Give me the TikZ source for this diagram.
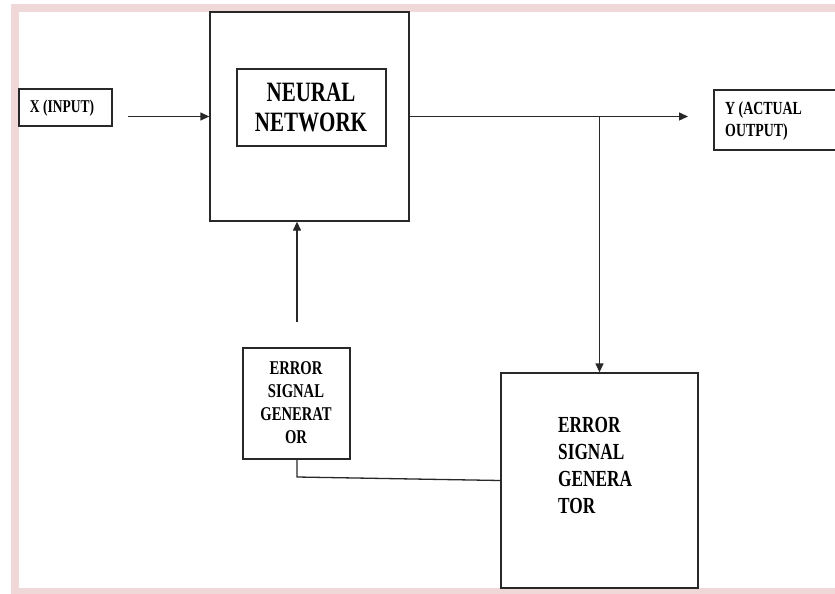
\documentclass[tikz,border=0pt]{standalone}
\usepackage{fontspec}
\setmainfont{Liberation Serif}
\newfontfamily\bt[FakeStretch=0.75]{Liberation Serif}
\usetikzlibrary{arrows.meta}
\definecolor{pinkframe}{RGB}{240,216,216}
\definecolor{linec}{RGB}{40,40,40}
\begin{document}
\begin{tikzpicture}[x=1pt,y=-1pt,
  box/.style={draw=linec,line width=1.3pt,fill=white,inner sep=0pt},
  lbl/.style={inner sep=0pt,font=\bt\bfseries},
  conn/.style={draw=linec,line width=1.3pt},
  tip/.style={-{Triangle[length=9pt,width=8pt]}}]
\useasboundingbox (0,0) rectangle (835,594);
\fill[pinkframe] (11,4) rectangle (900,594);
\fill[white] (19,12) rectangle (880,588);
% boxes
\node[box,minimum width=199pt,minimum height=209pt] (nn) at (309.5,116.5) {};
\node[box,minimum width=149pt,minimum height=77pt] (nnin) at (311.5,107.5) {};
\node[lbl,align=center,font=\bt\bfseries\fontsize{28}{30}\selectfont] (nntxt) at (311,107) {NEURAL\\NETWORK};
\node[box,minimum width=93pt,minimum height=37pt] (xbox) at (65.5,107.5) {};
\node[lbl,font=\bt\bfseries\fontsize{18}{22}\selectfont] (xtxt) at (62,108) {X (INPUT)};
\node[box,minimum width=146pt,minimum height=60pt] (ybox) at (787,120) {};
\node[lbl,anchor=west,align=left,font=\bt\bfseries\fontsize{18.5}{22}\selectfont] (ytxt) at (725,121) {Y (ACTUAL\\OUTPUT)};
\node[box,minimum width=107pt,minimum height=111pt] (esg1) at (296.5,403.5) {};
\node[lbl,align=center,font=\bt\bfseries\fontsize{19.5}{23}\selectfont] (esg1txt) at (296,403) {ERROR\\SIGNAL\\GENERAT\\OR};
\node[box,minimum width=197pt,minimum height=215pt] (esg2) at (599.5,480.5) {};
\node[lbl,anchor=west,align=left,font=\bt\bfseries\fontsize{23}{27}\selectfont] (esg2txt) at (558,465) {ERROR\\SIGNAL\\GENERA\\TOR};
% connectors
\coordinate (xs) at (128,116.5);
\draw[conn,tip] (xs) -- (xs -| nn.west);
\coordinate (ye) at (688,116.5);
\draw[conn,tip] (nn.east) -- (ye);
\coordinate (br) at (599.5,116.5);
\draw[conn,tip] (br) -- (esg2.north);
\coordinate (us) at (297,322);
\draw[conn,tip] (us) -- (us |- nn.south);
\coordinate (bc) at (297,477);
\draw[conn] (esg1.south -| bc) -- (bc) -- (esg2.west);
\end{tikzpicture}
\end{document}
